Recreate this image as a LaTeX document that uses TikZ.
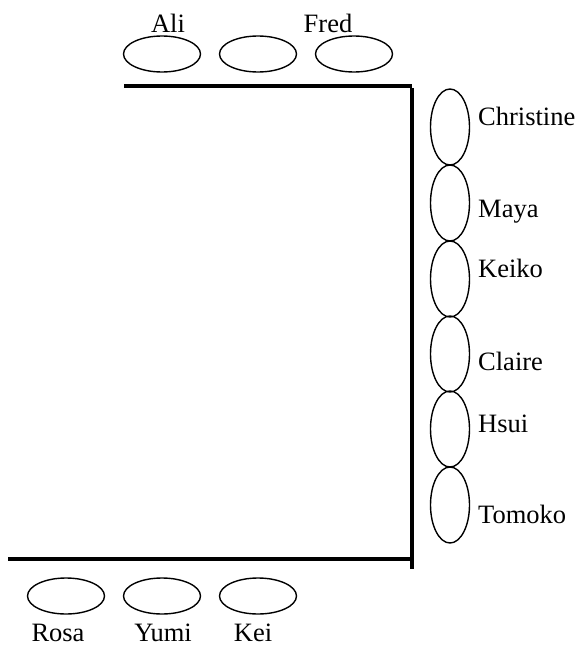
\documentclass[tikz,border=0pt]{standalone}
\usepackage{fontspec}
\setmainfont{Liberation Serif}
\usetikzlibrary{shapes.geometric}
\tikzset{
  seath/.style={draw, ellipse, line width=1.4pt, inner sep=0pt, minimum width=77pt, minimum height=36pt},
  seatv/.style={draw, ellipse, line width=1.4pt, inner sep=0pt, minimum width=39pt, minimum height=76pt},
  lbl/.style={font=\fontsize{26.5}{30}\selectfont, inner sep=0pt, anchor=base},
  lblr/.style={lbl, anchor=base west},
  tablebar/.style={line width=4.5pt}
}
\begin{document}
\begin{tikzpicture}[x=1pt,y=-1pt]
\useasboundingbox (0,0) rectangle (578,648);
% tables
\coordinate (t1) at (124,86);
\coordinate (t2) at (412,86);
\coordinate (t3) at (412,569);
\coordinate (b1) at (8,559);
\coordinate (b2) at (412,559);
\draw[tablebar] (t1) -- (t2);
\draw[tablebar] ([yshift=-2.25pt]t2) -- (t3);
\draw[tablebar] (b1) -- (b2);
% top seats
\node[seath] (s1) at (162,54) {};
\node[seath] (s2) at (258,54) {};
\node[seath] (s3) at (354,54) {};
\node[lbl] (ali) at (168,32) {Ali};
\node[lbl] (fred) at (328,32) {Fred};
% right seats
\node[seatv] (r1) at (450,127) {};
\node[seatv] (r2) at (450,203) {};
\node[seatv] (r3) at (450,279) {};
\node[seatv] (r4) at (450,354) {};
\node[seatv] (r5) at (450,429) {};
\node[seatv] (r6) at (450,505) {};
\node[lblr] (christine) at (478,125) {Christine};
\node[lblr] (maya) at (478,217) {Maya};
\node[lblr] (keiko) at (478,277) {Keiko};
\node[lblr] (claire) at (478,370) {Claire};
\node[lblr] (hsui) at (478,432) {Hsui};
\node[lblr] (tomoko) at (478,523) {Tomoko};
% bottom seats
\node[seath] (b1s) at (66,596) {};
\node[seath] (b2s) at (162,596) {};
\node[seath] (b3s) at (258,596) {};
\node[lbl] (rosa) at (58,641) {Rosa};
\node[lbl] (yumi) at (163,641) {Yumi};
\node[lbl] (kei) at (253,641) {Kei};
\end{tikzpicture}
\end{document}
